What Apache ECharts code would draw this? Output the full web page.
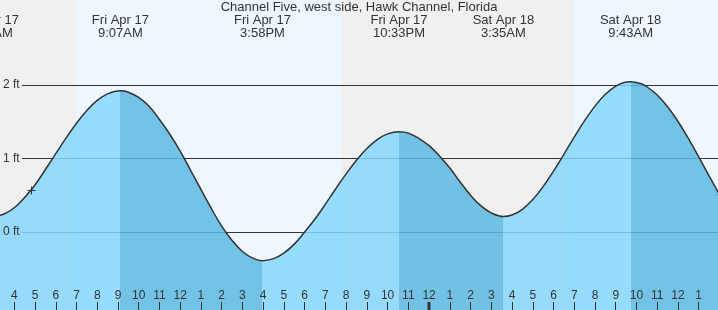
<!DOCTYPE html>
<html><head><meta charset="utf-8">
<script src="https://cdn.jsdelivr.net/npm/echarts@6/dist/echarts.min.js"></script>
<style>html,body{margin:0;padding:0;background:#f0f0f0}#c{width:718px;height:310px}</style>
</head><body><div id="c"></div>
<script>
// ---- data (hours counted from Fri Apr 17 00:00) ----
const chartTitle = 'Channel Five, west side, Hawk Channel, Florida';
const tideTimes   = [2.85, 3.5, 4, 4.5, 5, 5.5, 6, 6.5, 7, 7.5, 8, 8.5, 9.117,
  9.5, 10, 10.5, 11, 11.5, 12, 12.5, 13, 13.5, 14, 14.5, 15, 15.5, 15.967,
  16.5, 17, 17.5, 18, 18.5, 19, 19.5, 20, 20.5, 21, 21.5, 22, 22.55,
  23, 23.5, 24, 24.5, 25, 25.5, 26, 26.5, 27, 27.583,
  28, 28.5, 29, 29.5, 30, 30.5, 31, 31.5, 32, 32.5, 33, 33.4, 33.717,
  34.2, 34.5, 35, 35.5, 36, 36.5, 37, 37.5, 38];
const tideHeights = [0.20, 0.245, 0.33, 0.47, 0.64, 0.85, 1.065, 1.28, 1.48, 1.653, 1.79, 1.879, 1.92,
  1.902, 1.83, 1.71, 1.53, 1.33, 1.10, 0.84, 0.58, 0.32, 0.08, -0.115, -0.265, -0.355, -0.39,
  -0.362, -0.286, -0.165, 0.0, 0.176, 0.379, 0.589, 0.791, 0.977, 1.135, 1.258, 1.335, 1.365,
  1.345, 1.275, 1.175, 1.035, 0.87, 0.68, 0.50, 0.355, 0.26, 0.21,
  0.231, 0.309, 0.441, 0.618, 0.827, 1.057, 1.291, 1.515, 1.712, 1.873, 1.984, 2.033, 2.045,
  2.019, 1.976, 1.864, 1.703, 1.503, 1.273, 1.021, 0.763, 0.51];
const extremeTimes = [2.85, 9.117, 15.967, 22.55, 27.583, 33.717, 40.9];
const extremeTypes = ['L', 'H', 'L', 'H', 'L', 'H', 'L'];
const extremeDays  = ['Fri Apr 17', 'Fri Apr 17', 'Fri Apr 17', 'Fri Apr 17', 'Sat Apr 18', 'Sat Apr 18', 'Sat Apr 18'];
const extremeClock = ['2:51AM', '9:07AM', '3:58PM', '10:33PM', '3:35AM', '9:43AM', '4:54PM'];
const sunriseTimes = [6.97, 30.96];
const sunsetTimes  = [19.78];
const hourTicks = [4,5,6,7,8,9,10,11,12,13,14,15,16,17,18,19,20,21,22,23,24,25,26,27,28,29,30,31,32,33,34,35,36,37];
const midnightTimes = [24];
const heightTicks = [0, 1, 2];
const nowTime = 4.82, nowHeight = 0.575;

// ---- axis ranges ----
const xMin = 3.36, xMax = 37.93;
const yMin = -1.061, yMax = 3.156;

const FONT = '"Liberation Sans", Arial, sans-serif';
const nightColor = '#f0f0f0', dayColor = '#eef7fe';
const riseFill = 'rgb(134,215,253)', fallFill = 'rgb(92,185,226)';

// day/night bands
const edges = [xMin, sunriseTimes[0], sunsetTimes[0], sunriseTimes[1], xMax];
const bands = [];
for (let i = 0; i < edges.length - 1; i++) {
  bands.push([{ xAxis: edges[i], itemStyle: { color: i % 2 === 0 ? nightColor : dayColor } }, { xAxis: edges[i + 1] }]);
}
// rising / falling pieces
const pieces = [];
for (let i = 0; i < extremeTimes.length - 1; i++) {
  pieces.push({ gte: extremeTimes[i], lt: extremeTimes[i + 1], color: extremeTypes[i] === 'H' ? fallFill : riseFill });
}

const chart = echarts.init(document.getElementById('c'), null, { renderer: 'canvas' });
chart.setOption({
  animation: false,
  backgroundColor: nightColor,
  title: { text: chartTitle, left: 'center', top: 0, padding: [1, 0, 0, 0],
    textStyle: { fontSize: 13, fontWeight: 'normal', color: '#333', fontFamily: FONT } },
  grid: [
    { left: 0, right: 0, top: 0, bottom: 0 },
    { left: 22, right: 0, top: 0, bottom: 0 }
  ],
  xAxis: [
    { type: 'value', gridIndex: 0, min: xMin, max: xMax, position: 'bottom', z: 10,
      axisLine: { show: false, onZero: false },
      axisTick: { show: true, inside: true, length: 8, lineStyle: { color: '#333', width: 1 }, customValues: hourTicks },
      axisLabel: { show: true, inside: true, margin: 8, color: '#333', fontSize: 12, fontFamily: FONT,
        customValues: hourTicks,
        formatter: v => { const h = Math.round(v) % 12; return String(h === 0 ? 12 : h); } },
      splitLine: { show: false } },
    { type: 'value', gridIndex: 1, min: 0, max: 1, show: false, axisLine: { onZero: false } }
  ],
  yAxis: [
    { type: 'value', gridIndex: 0, min: yMin, max: yMax, z: 10,
      axisLine: { show: false, onZero: false }, axisTick: { show: false }, splitLine: { show: false },
      axisLabel: { inside: true, margin: 2, color: '#333', fontSize: 12, fontFamily: FONT,
        showMinLabel: false, showMaxLabel: false,
        formatter: v => heightTicks.some(t => Math.abs(t - v) < 1e-6) ? Math.round(v) + ' ft' : '' } },
    { type: 'value', gridIndex: 1, min: yMin, max: yMax, show: false, axisLine: { onZero: false } }
  ],
  visualMap: { type: 'piecewise', show: false, dimension: 0, seriesIndex: 2, pieces: pieces, outOfRange: { color: riseFill } },
  series: [
    { type: 'line', xAxisIndex: 0, yAxisIndex: 0, z: 0, data: [], silent: true,
      markArea: { silent: true, label: { show: false }, data: bands } },
    { type: 'custom', xAxisIndex: 1, yAxisIndex: 1, z: 1, silent: true,
      data: heightTicks.map(v => [0, v]),
      renderItem: (params, api) => {
        const cs = params.coordSys;
        const y = Math.round(api.coord([0, api.value(1)])[1]) + 0.5;
        return { type: 'line', shape: { x1: cs.x, y1: y, x2: cs.x + cs.width, y2: y },
          style: { stroke: '#333', lineWidth: 1 } };
      } },
    { type: 'line', xAxisIndex: 0, yAxisIndex: 0, z: 2, silent: true,
      data: tideTimes.map((t, i) => [t, tideHeights[i]]),
      smooth: 0.4, symbol: 'none', clip: true,
      lineStyle: { color: '#333', width: 1.5 },
      areaStyle: { opacity: 0.85, origin: 'start' } },
    { type: 'custom', xAxisIndex: 0, yAxisIndex: 0, z: 5, silent: true,
      data: extremeTimes.map(t => [t, 0]),
      renderItem: (params, api) => {
        const x = api.coord([api.value(0), 0])[0];
        const i = params.dataIndex;
        return { type: 'text', x: x, y: 13.5,
          style: { text: extremeDays[i] + '\n' + extremeClock[i], align: 'center', verticalAlign: 'top',
            fill: '#333', fontSize: 13, fontFamily: FONT, lineHeight: 13 } };
      } },
    { type: 'custom', xAxisIndex: 0, yAxisIndex: 0, z: 5, silent: true,
      data: [[nowTime, nowHeight]],
      renderItem: (params, api) => {
        const p = api.coord([api.value(0), api.value(1)]);
        const cx = Math.round(p[0]) + 0.5, cy = Math.round(p[1]) + 0.5;
        return { type: 'group', children: [
          { type: 'line', shape: { x1: cx - 4, y1: cy, x2: cx + 4, y2: cy }, style: { stroke: '#333', lineWidth: 1 } },
          { type: 'line', shape: { x1: cx, y1: cy - 4, x2: cx, y2: cy + 4 }, style: { stroke: '#333', lineWidth: 1 } }
        ] };
      } },
    { type: 'custom', xAxisIndex: 0, yAxisIndex: 0, z: 11, silent: true,
      data: midnightTimes.map(t => [t, 0]),
      renderItem: (params, api) => {
        const x = api.coord([api.value(0), 0])[0];
        const cs = params.coordSys;
        return { type: 'rect', shape: { x: Math.round(x) - 1.5, y: cs.y + cs.height - 8, width: 3, height: 8 },
          style: { fill: '#333' } };
      } }
  ]
});
</script></body></html>
